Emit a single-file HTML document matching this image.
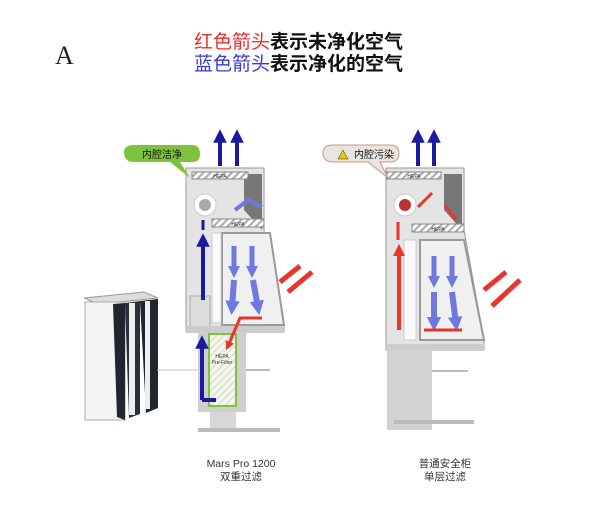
<!DOCTYPE html>
<html><head><meta charset="utf-8"><style>
html,body{margin:0;padding:0;background:#fff;}
svg{display:block;font-family:"Liberation Sans","Noto Sans CJK SC",sans-serif;}
</style></head><body>
<svg width="600" height="520" viewBox="0 0 600 520">
<defs>
<marker id="bh" markerWidth="3.4" markerHeight="3.4" refX="1.7" refY="1.7" orient="auto" markerUnits="strokeWidth"><path d="M0,0 L3.4,1.7 L0,3.4 z" fill="#1a1aa0"/></marker>
<marker id="lb" markerWidth="2.4" markerHeight="2.4" refX="1.2" refY="1.2" orient="auto" markerUnits="strokeWidth"><path d="M0,0 L2.4,1.2 L0,2.4 z" fill="#6f78e0"/></marker>
<marker id="rh" markerWidth="3" markerHeight="3" refX="1.5" refY="1.5" orient="auto" markerUnits="strokeWidth"><path d="M0,0 L3,1.5 L0,3 z" fill="#e8352c"/></marker>
<pattern id="hatch" width="5" height="5" patternUnits="userSpaceOnUse" patternTransform="rotate(45)"><rect width="5" height="5" fill="#fff"/><rect width="2" height="5" fill="#aaa"/></pattern>
<pattern id="ghatch" width="5" height="5" patternUnits="userSpaceOnUse" patternTransform="rotate(45)"><rect width="5" height="5" fill="#f4f7ee"/><rect width="1" height="5" fill="#cdd8b8"/></pattern>
</defs>

<text x="55" y="64" font-family="Liberation Serif,serif" font-size="26" fill="#222">A</text>
<text x="194" y="48" font-size="19" fill="#111" font-weight="bold"><tspan fill="#e83030" font-weight="normal">红色箭头</tspan>表示未净化空气</text>
<text x="194" y="70" font-size="19" fill="#111" font-weight="bold"><tspan fill="#3a3adb" font-weight="normal">蓝色箭头</tspan>表示净化的空气</text>

<!-- filter -->
<g>
<polygon points="84,298 144,292 158,298 98,304" fill="#ddd" stroke="#999"/>
<rect x="85" y="302" width="40" height="118" fill="#f4f4f4" stroke="#aaa"/>
<polygon points="113,304 125,303 125,420 117,417" fill="#1f2630"/>
<polygon points="125,303 140,301 140,414 129,418" fill="#2a313c"/>
<polygon points="140,301 158,299 158,408 146,413" fill="#1f2630"/>
<rect x="129" y="303" width="6" height="112" fill="#eee"/>
<rect x="145" y="301" width="5" height="108" fill="#eee"/>
<line x1="157" y1="370" x2="200" y2="370" stroke="#bbb"/>
</g>

<!-- LEFT cabinet -->
<g>
<polygon points="186,168 264,168 264,230 284,326 284,332 186,332" fill="#e4e4e4" stroke="#999"/>
<polygon points="244,174 262,174 262,230 244,210" fill="#777"/>
<rect x="192" y="172" width="56" height="7" fill="url(#hatch)" stroke="#888"/>
<text x="220" y="178" font-size="5" text-anchor="middle" fill="#333">HEPA</text>
<rect x="212" y="219" width="52" height="8" fill="url(#hatch)" stroke="#888"/>
<text x="238" y="226" font-size="5" text-anchor="middle" fill="#333">HEPA</text>
<polygon points="222,233 270,233 284,325 222,325" fill="#f0f0f0" stroke="#999" stroke-width="2"/>
<rect x="212" y="233" width="9" height="90" fill="#fafafa" stroke="#ccc"/>
<rect x="190" y="296" width="20" height="32" fill="#ddd" stroke="#aaa"/>
<rect x="186" y="326" width="98" height="6" fill="#ccc"/>
<circle cx="205" cy="205" r="11" fill="#fff" stroke="#ccc"/>
<circle cx="205" cy="205" r="6" fill="#aaa"/>
<rect x="198" y="332" width="48" height="80" fill="#cfcfcf"/>
<rect x="209" y="334" width="27" height="72" fill="url(#ghatch)" stroke="#7dc23a" stroke-width="2"/>
<text x="222" y="358" font-size="5" text-anchor="middle" fill="#333">HEPA</text>
<text x="222" y="364" font-size="5" text-anchor="middle" fill="#333">Pre-Filter</text>
<rect x="210" y="412" width="26" height="20" fill="#d8d8d8"/>
<rect x="198" y="428" width="82" height="4" fill="#bbb"/>
<line x1="246" y1="370" x2="270" y2="370" stroke="#bbb" stroke-width="2"/>
<path d="M202,400 L202,342" stroke="#1a1aa0" stroke-width="4" fill="none" marker-end="url(#bh)"/>
<path d="M202,400 L216,400" stroke="#1a1aa0" stroke-width="4"/>
<path d="M203,300 L203,240" stroke="#1a1aa0" stroke-width="4" fill="none" marker-end="url(#bh)"/>
<path d="M203,230 L203,220" stroke="#1a1aa0" stroke-width="3"/>
<path d="M220,166 L220,136" stroke="#1a1aa0" stroke-width="4" marker-end="url(#bh)"/>
<path d="M237,166 L237,136" stroke="#1a1aa0" stroke-width="4" marker-end="url(#bh)"/>
<path d="M234,246 L234,272" stroke="#6f78e0" stroke-width="5" marker-end="url(#lb)"/>
<path d="M252,246 L252,272" stroke="#6f78e0" stroke-width="5" marker-end="url(#lb)"/>
<path d="M234,280 L232,308" stroke="#6f78e0" stroke-width="6" marker-end="url(#lb)"/>
<path d="M253,280 L258,308" stroke="#6f78e0" stroke-width="6" marker-end="url(#lb)"/>
<path d="M262,207 L248,200 L235,210" stroke="#6f78e0" stroke-width="4" fill="none"/>
<path d="M300,266 L280,282" stroke="#e8352c" stroke-width="5"/>
<path d="M312,272 L288,292" stroke="#e8352c" stroke-width="5"/>
<path d="M262,318 L240,318 L228,346" stroke="#e8352c" stroke-width="3" fill="none" marker-end="url(#rh)"/>
<path d="M124,152 Q124,145 134,145 L192,145 Q200,145 200,154 Q200,162 192,162 L180,162 L190,178 L170,162 L134,162 Q124,162 124,152 z" fill="#7cc23c"/>
<text x="162" y="158" font-size="10" text-anchor="middle" fill="#111">内腔洁净</text>
</g>

<!-- RIGHT cabinet -->
<g>
<polygon points="386,168 464,168 464,230 484,340 484,350 386,350" fill="#e4e4e4" stroke="#999"/>
<polygon points="444,174 462,174 462,230 444,210" fill="#777"/>
<rect x="387" y="172" width="54" height="7" fill="url(#hatch)" stroke="#888"/>
<text x="414" y="178" font-size="5" text-anchor="middle" fill="#333">HEPA</text>
<rect x="412" y="224" width="52" height="8" fill="url(#hatch)" stroke="#888"/>
<text x="438" y="231" font-size="5" text-anchor="middle" fill="#333">HEPA</text>
<polygon points="420,240 464,240 484,340 420,340" fill="#f0f0f0" stroke="#999" stroke-width="2"/>
<rect x="404" y="240" width="12" height="100" fill="#fafafa" stroke="#ccc"/>
<rect x="386" y="344" width="98" height="6" fill="#ccc"/>
<rect x="387" y="350" width="45" height="80" fill="#d2d2d2"/>
<rect x="394" y="420" width="80" height="4" fill="#bbb"/>
<line x1="432" y1="371" x2="468" y2="371" stroke="#bbb" stroke-width="2"/>
<circle cx="405" cy="205" r="11" fill="#fff" stroke="#ccc"/>
<circle cx="405" cy="205" r="6" fill="#b33"/>
<path d="M399,330 L399,250" stroke="#e8352c" stroke-width="4" marker-end="url(#rh)"/>
<path d="M398,240 L398,222" stroke="#e8352c" stroke-width="3"/>
<path d="M418,166 L418,136" stroke="#1a1aa0" stroke-width="4" marker-end="url(#bh)"/>
<path d="M434,166 L434,136" stroke="#1a1aa0" stroke-width="4" marker-end="url(#bh)"/>
<path d="M434,256 L434,282" stroke="#6f78e0" stroke-width="5" marker-end="url(#lb)"/>
<path d="M452,256 L452,282" stroke="#6f78e0" stroke-width="5" marker-end="url(#lb)"/>
<path d="M434,292 L434,324" stroke="#6f78e0" stroke-width="6" marker-end="url(#lb)"/>
<path d="M452,292 L456,324" stroke="#6f78e0" stroke-width="6" marker-end="url(#lb)"/>
<path d="M424,330 L462,330" stroke="#e8352c" stroke-width="3"/>
<path d="M506,272 L484,290" stroke="#e8352c" stroke-width="5"/>
<path d="M520,280 L492,306" stroke="#e8352c" stroke-width="5"/>
<path d="M432,193 L418,207" stroke="#e8352c" stroke-width="3"/>
<path d="M445,205 L456,220" stroke="#e8352c" stroke-width="3"/>
<path d="M323,153 Q323,145 333,145 L390,145 Q399,145 399,153 Q399,162 390,162 L380,162 L388,178 L368,162 L333,162 Q323,162 323,153 z" fill="#e8e4df" stroke="#c89a80"/>
<polygon points="338,159 343,150 348,159" fill="#f2c500" stroke="#333" stroke-width="0.5"/>
<text x="374" y="158" font-size="10" text-anchor="middle" fill="#111">内腔污染</text>
</g>

<text x="241" y="467" font-size="10.5" text-anchor="middle" fill="#333">Mars Pro 1200</text>
<text x="241" y="480" font-size="10.5" text-anchor="middle" fill="#333">双重过滤</text>
<text x="445" y="467" font-size="10.5" text-anchor="middle" fill="#333">普通安全柜</text>
<text x="445" y="480" font-size="10.5" text-anchor="middle" fill="#333">单层过滤</text>
</svg>
</body></html>
